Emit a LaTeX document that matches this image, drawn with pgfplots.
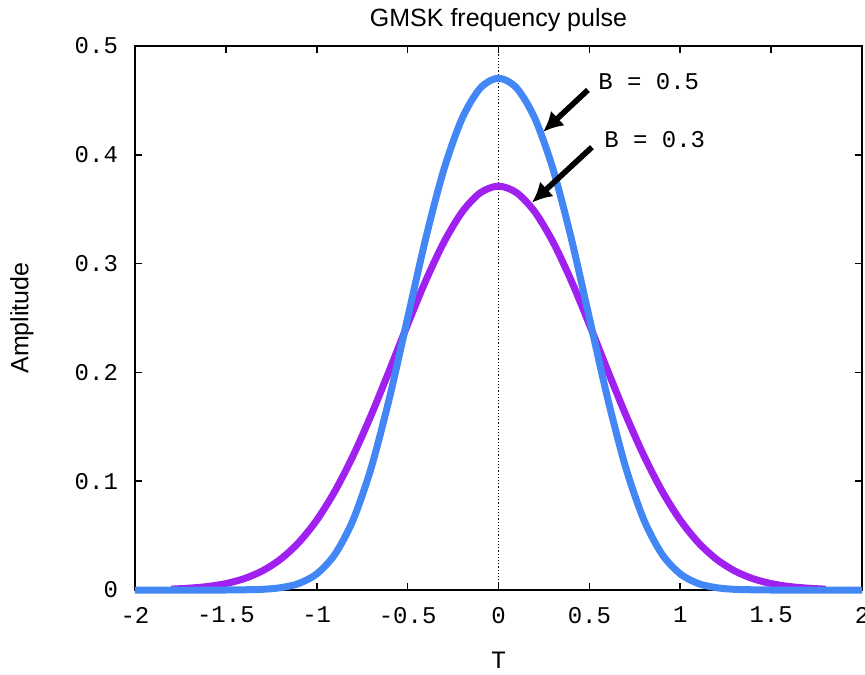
\documentclass[border=0pt]{standalone}
\usepackage{fontspec}
\setmainfont{Liberation Sans}
\newfontfamily\mono{Liberation Mono}
\usepackage{pgfplots}
\pgfplotsset{compat=1.18}
\usetikzlibrary{arrows.meta}
\definecolor{gblue}{RGB}{66,135,245}
\definecolor{gpurple}{RGB}{160,32,240}
\begin{document}
\begin{tikzpicture}
\begin{axis}[
  scale only axis, width=363.5pt, height=272pt,
  xmin=-2, xmax=2, ymin=0, ymax=0.5,
  clip=false,
  axis line style={line width=0.8pt},
  tick style={line width=0.8pt, black},
  major tick length=3.5pt,
  tick align=inside,
  xtick={-2,-1.5,-1,-0.5,0,0.5,1,1.5,2},
  xticklabels={-2,-1.5,-1,-0.5,0,0.5,1,1.5,2},
  ytick={0,0.1,0.2,0.3,0.4,0.5},
  yticklabels={0,0.1,0.2,0.3,0.4,0.5},
  ticklabel style={font=\mono\fontsize{12}{14}\selectfont},
  xticklabel style={yshift=-5pt},
  yticklabel style={xshift=-5pt},
  title={GMSK frequency pulse},
  title style={font=\fontsize{12.5}{15}\selectfont, at={(rel axis cs:0.5,1)}, anchor=center, yshift=7pt},
  xlabel={T},
  xlabel style={font=\mono\fontsize{12.5}{15}\selectfont, at={(rel axis cs:0.5,0)}, anchor=center, yshift=-35pt},
  ylabel={Amplitude},
  ylabel style={font=\fontsize{12.5}{15}\selectfont, at={(rel axis cs:0,0.5)}, anchor=center, yshift=56.5pt},
]
\addplot[black, densely dotted, line width=0.6pt] coordinates {(0,0) (0,0.5)};
% B = 0.3
\addplot[gpurple, line width=3.5pt, smooth, line join=round, line cap=butt] coordinates {
(-1.8,0.0008) (-1.7,0.0017) (-1.6,0.0032) (-1.5,0.0059) (-1.4,0.0104) (-1.3,0.0175)
(-1.2,0.0282) (-1.1,0.0435) (-1.0,0.0642) (-0.9,0.0909) (-0.8,0.1234) (-0.7,0.1610)
(-0.6,0.2020) (-0.5,0.2441) (-0.4,0.2844) (-0.3,0.3198) (-0.2,0.3475) (-0.1,0.3651)
(0,0.3712)
(0.1,0.3651) (0.2,0.3475) (0.3,0.3198) (0.4,0.2844) (0.5,0.2441) (0.6,0.2020)
(0.7,0.1610) (0.8,0.1234) (0.9,0.0909) (1.0,0.0642) (1.1,0.0435) (1.2,0.0282)
(1.3,0.0175) (1.4,0.0104) (1.5,0.0059) (1.6,0.0032) (1.7,0.0017) (1.8,0.0008)
};
% B = 0.5
\addplot[gblue, line width=3.5pt, smooth, line join=round, line cap=butt] coordinates {
(-2.0,0) (-1.9,0) (-1.8,0) (-1.7,0) (-1.6,0) (-1.5,0.0000) (-1.4,0.0002) (-1.3,0.0006)
(-1.2,0.0021) (-1.1,0.0059) (-1.0,0.0148) (-0.9,0.0328) (-0.8,0.0644) (-0.7,0.1126)
(-0.6,0.1765) (-0.5,0.2500) (-0.4,0.3234) (-0.3,0.3868) (-0.2,0.4335) (-0.1,0.4613)
(0,0.4704)
(0.1,0.4613) (0.2,0.4335) (0.3,0.3868) (0.4,0.3234) (0.5,0.2500) (0.6,0.1765)
(0.7,0.1126) (0.8,0.0644) (0.9,0.0328) (1.0,0.0148) (1.1,0.0059) (1.2,0.0021)
(1.3,0.0006) (1.4,0.0002) (1.5,0.0000) (1.6,0) (1.7,0) (1.8,0) (1.9,0) (2.0,0)
};
\draw[-{Latex[length=10pt,width=10pt]}, line width=2.8pt] (axis cs:0.492,0.4596) -- (axis cs:0.245,0.421);
\draw[-{Latex[length=10pt,width=10pt]}, line width=2.8pt] (axis cs:0.514,0.407) -- (axis cs:0.184,0.356);
\node[anchor=west, inner sep=0pt, font=\mono\fontsize{12}{14}\selectfont] at (axis cs:0.547,0.467) {B = 0.5};
\node[anchor=west, inner sep=0pt, font=\mono\fontsize{12}{14}\selectfont] at (axis cs:0.580,0.4136) {B = 0.3};
\path (rel axis cs:0,0) ++(-67.5pt,-42pt) coordinate (bl);
\path (rel axis cs:1,1) ++(1.5pt,23pt) coordinate (tr);
\end{axis}
\pgfresetboundingbox
\path[use as bounding box] (bl) rectangle (tr);
\end{tikzpicture}
\end{document}
